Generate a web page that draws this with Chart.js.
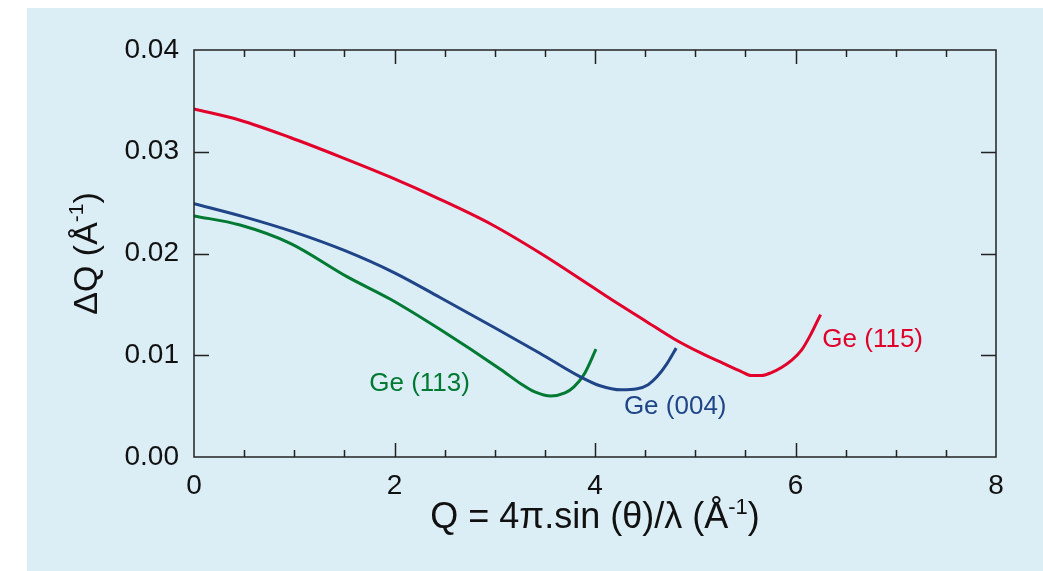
<!DOCTYPE html>
<html>
<head>
<meta charset="utf-8">
<script src="https://cdn.jsdelivr.net/npm/chart.js@4.4.1/dist/chart.umd.min.js"></script>
<style>
  html, body { margin: 0; padding: 0; background: #fff; }
  #wrap { width: 1043px; height: 571px; }
</style>
</head>
<body>
<div id="wrap"><canvas id="chart" width="1043" height="571"></canvas></div>
<script>
// values
const qTicks = [0, 2, 4, 6, 8];
const dqTicks = [0, 0.01, 0.02, 0.03, 0.04];

const ge115Q  = [0, 0.46, 0.96, 1.46, 1.96, 2.46, 2.96, 3.46, 3.96, 4.16, 4.5, 4.79, 5.06, 5.28, 5.46, 5.56, 5.66, 5.76, 5.86, 5.96, 6.06, 6.15, 6.25];
const ge115DQ = [0.0342, 0.0331, 0.0314, 0.0295, 0.0275, 0.0253, 0.0229, 0.0200, 0.0168, 0.0155, 0.0134, 0.0116, 0.0102, 0.0092, 0.0084, 0.0080, 0.0080, 0.0083, 0.0088, 0.0095, 0.0105, 0.0120, 0.0140];

const ge004Q  = [0, 0.5, 1.0, 1.5, 2.0, 2.45, 3.0, 3.45, 3.85, 4.05, 4.26, 4.42, 4.53, 4.62, 4.72, 4.81];
const ge004DQ = [0.0249, 0.0236, 0.0221, 0.0203, 0.0181, 0.0157, 0.0127, 0.0102, 0.0079, 0.0070, 0.0066, 0.0067, 0.0071, 0.0079, 0.0092, 0.0107];

const ge113Q  = [0, 0.46, 0.96, 1.53, 1.96, 2.46, 3.06, 3.26, 3.40, 3.56, 3.70, 3.79, 3.89, 4.01];
const ge113DQ = [0.0237, 0.0228, 0.0210, 0.0177, 0.0155, 0.0125, 0.0086, 0.0072, 0.0064, 0.0060, 0.0063, 0.0069, 0.0081, 0.0106];

const seriesNames = ['Ge (115)', 'Ge (004)', 'Ge (113)'];
const seriesColors = ['#e2002b', '#1f4588', '#007a32'];
// where each curve name sits, in data units (Q, dQ)
const nameAt = [[6.77, 0.0115], [4.8, 0.0049], [2.25, 0.0072]];

const toPts = (xs, ys) => xs.map((x, i) => ({ x: x, y: ys[i] }));
const ff = '"Liberation Sans", Arial, Helvetica, sans-serif';

const decorPlugin = {
  id: 'decor',
  beforeDraw(chart) {
    const c = chart.ctx;
    c.save();
    c.fillStyle = '#ffffff';
    c.fillRect(0, 0, chart.width, chart.height);
    c.fillStyle = '#dbedf5';
    c.fillRect(27, 8, chart.width - 27, chart.height - 8);
    c.restore();
  },
  afterDraw(chart) {
    const c = chart.ctx;
    const a = chart.chartArea;
    const xs = chart.scales.x, ys = chart.scales.y;
    c.save();
    c.strokeStyle = '#222';
    c.lineWidth = 1.5;
    c.strokeRect(a.left, a.top, a.right - a.left, a.bottom - a.top);
    c.beginPath();
    // x ticks, bottom and top, pointing inward
    for (let v = 0.5; v < 8; v += 0.5) {
      const px = Math.round(xs.getPixelForValue(v)) + 0.5;
      const len = (v % 2 === 0) ? 14 : 7;
      c.moveTo(px, a.bottom); c.lineTo(px, a.bottom - len);
      c.moveTo(px, a.top); c.lineTo(px, a.top + len);
    }
    // y ticks, left and right
    dqTicks.slice(1, -1).forEach(v => {
      const py = Math.round(ys.getPixelForValue(v)) + 0.5;
      c.moveTo(a.left, py); c.lineTo(a.left + 15, py);
      c.moveTo(a.right, py); c.lineTo(a.right - 15, py);
    });
    c.stroke();

    // curve names
    c.font = '26px ' + ff;
    c.textAlign = 'center';
    c.textBaseline = 'middle';
    nameAt.forEach((p, i) => {
      c.fillStyle = seriesColors[i];
      c.fillText(seriesNames[i], xs.getPixelForValue(p[0]), ys.getPixelForValue(p[1]));
    });

    // axis titles with superscript
    const drawTitle = (parts, x, y) => {
      c.textAlign = 'left';
      c.textBaseline = 'alphabetic';
      let w = 0;
      parts.forEach(p => { c.font = p[1] + 'px ' + ff; w += c.measureText(p[0]).width; });
      let cx = x - w / 2;
      parts.forEach(p => {
        c.font = p[1] + 'px ' + ff;
        c.fillText(p[0], cx, y - p[2]);
        cx += c.measureText(p[0]).width;
      });
    };
    c.fillStyle = '#111';
    drawTitle([['Q = 4\u03C0.sin (\u03B8)/\u03BB (\u00C5', 36, 0], ['-1', 22, 14], [')', 36, 0]],
      (a.left + a.right) / 2, 528);
    c.save();
    c.translate(97, (a.top + a.bottom) / 2);
    c.rotate(-Math.PI / 2);
    drawTitle([['\u0394Q (\u00C5', 34, 0], ['-1', 21, 14], [')', 34, 0]], 0, 0);
    c.restore();
    c.restore();
  }
};

const makeSet = (i, xs, ys) => ({
  label: seriesNames[i],
  data: toPts(xs, ys),
  borderColor: seriesColors[i],
  borderWidth: 3,
  pointRadius: 0,
  fill: false,
  cubicInterpolationMode: 'monotone'
});

new Chart(document.getElementById('chart'), {
  type: 'line',
  data: {
    datasets: [
      makeSet(0, ge115Q, ge115DQ),
      makeSet(1, ge004Q, ge004DQ),
      makeSet(2, ge113Q, ge113DQ)
    ]
  },
  options: {
    responsive: false,
    animation: false,
    layout: { padding: { left: 0, top: 50, right: 47, bottom: 0 } },
    plugins: { legend: { display: false }, tooltip: { enabled: false } },
    scales: {
      x: {
        type: 'linear', min: 0, max: 8,
        afterBuildTicks: s => { s.ticks = qTicks.map(v => ({ value: v })); },
        afterFit: s => { s.height = 114; },
        grid: { display: false, drawTicks: false },
        border: { display: false },
        ticks: { color: '#111', font: { family: ff, size: 28 }, padding: 12, maxRotation: 0 }
      },
      y: {
        min: 0, max: 0.04,
        afterBuildTicks: s => { s.ticks = dqTicks.map(v => ({ value: v })); },
        afterFit: s => { s.width = 194; },
        grid: { display: false, drawTicks: false },
        border: { display: false },
        ticks: { color: '#111', font: { family: ff, size: 28 }, padding: 15, callback: v => v.toFixed(2) }
      }
    }
  },
  plugins: [decorPlugin]
});
</script>
</body>
</html>
